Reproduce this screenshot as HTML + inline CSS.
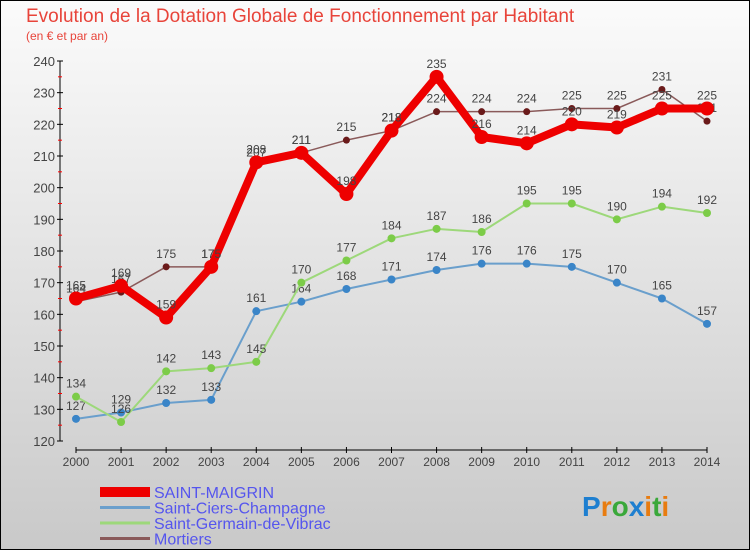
<!DOCTYPE html>
<html><head><meta charset="utf-8"><style>
body{margin:0}
svg{display:block;font-family:"Liberation Sans",sans-serif}
</style></head><body>
<svg id="c" width="750" height="550">
<defs><linearGradient id="bg" x1="0" y1="0" x2="0" y2="1"><stop offset="0" stop-color="#fbfbfb"/><stop offset="1" stop-color="#c9c9c9"/></linearGradient></defs>
<rect x="0.5" y="0.5" width="749" height="549" fill="url(#bg)" stroke="#000"/>
<text x="26" y="22" font-size="19" fill="#e8443a">Evolution de la Dotation Globale de Fonctionnement par Habitant</text>
<text x="26" y="40" font-size="12" fill="#e8443a">(en € et par an)</text>
<g id="axes"></g><g id="series"></g><g id="legend"></g>
<text x="582" y="516" font-size="28" font-weight="bold"><tspan fill="#1e7fd0">P</tspan><tspan fill="#e87c10">r</tspan><tspan fill="#3aa83a">o</tspan><tspan fill="#1e7fd0">x</tspan><tspan fill="#e87c10">i</tspan><tspan fill="#3aa83a">t</tspan><tspan fill="#e87c10">i</tspan></text>
</svg>
<script>
const years=[2000,2001,2002,2003,2004,2005,2006,2007,2008,2009,2010,2011,2012,2013,2014];
const yTicks=[120,130,140,150,160,170,180,190,200,210,220,230,240];
const saintMaigrin=[165,169,159,175,208,211,198,218,235,216,214,220,219,225,225];
const saintCiers=[127,129,132,133,161,164,168,171,174,176,176,175,170,165,157];
const saintGermain=[134,126,142,143,145,170,177,184,187,186,195,195,190,194,192];
const mortiers=[164,167,175,175,207,211,215,218,224,224,224,225,225,231,221];
const NS="http://www.w3.org/2000/svg";
const X=i=>76+i*(707-76)/(years.length-1);
const Y=v=>441-(v-120)*(441-61)/120;
function mk(tag,attrs,parent,text){const e=document.createElementNS(NS,tag);for(const k in attrs)e.setAttribute(k,attrs[k]);if(text!==undefined)e.textContent=text;parent.appendChild(e);return e;}
const ax=document.getElementById('axes');
let a=mk('line',{x1:60,y1:Y(240),x2:60,y2:Y(120),stroke:'#000'},ax);


yTicks.forEach(v=>{
 mk('line',{x1:57,x2:63,y1:Y(v),y2:Y(v),stroke:'#000'},ax);
 if(v<240)mk('line',{x1:58,x2:62,y1:Y(v+5),y2:Y(v+5),stroke:'#f00'},ax);
 const t=mk('text',{x:55,y:Y(v)+5,'text-anchor':'end','font-size':13,fill:'#444'},ax,v);
 
 
});
a=mk('line',{x1:76,y1:450,x2:707,y2:450,stroke:'#000'},ax);


years.forEach((yr,i)=>{
 mk('line',{x1:X(i),x2:X(i),y1:447,y2:453,stroke:'#000'},ax);
 const t=mk('text',{x:X(i),y:466,'text-anchor':'middle','font-size':12,fill:'#444'},ax,yr);
 
 
});
const sg=document.getElementById('series');
const defs=[
 {name:'saint-ciers-champagne',data:saintCiers,color:'#6a9fcc',dot:'#3a85c8',w:2,r:4,lab:'Saint-Ciers-Champagne'},
 {name:'saint-germain-de-vibrac',data:saintGermain,color:'#9dd87a',dot:'#7ccc48',w:2,r:4,lab:'Saint-Germain-de-Vibrac'},
 {name:'mortiers',data:mortiers,color:'#8a5a5a',dot:'#6a1a1a',w:1.5,r:3.5,lab:'Mortiers'},
 {name:'saint-maigrin',data:saintMaigrin,color:'#ee0000',dot:'#ee0000',w:8,r:7,lab:'SAINT-MAIGRIN'}
];
defs.forEach(s=>{
 const g=mk('g',{},sg);
 
 
 const p=mk('polyline',{points:s.data.map((v,i)=>X(i)+','+Y(v)).join(' '),fill:'none',stroke:s.color,'stroke-width':s.w,'stroke-linejoin':'round'},g);
 
 
 s.data.forEach((v,i)=>{
  const c=mk('circle',{cx:X(i),cy:Y(v),r:s.r,fill:s.dot},g);
  
  
  const t=mk('text',{x:X(i),y:Y(v)-9,'text-anchor':'middle','font-size':12,fill:'#444'},g,v);
  
  
 });
});
const lg=document.getElementById('legend');
const order=[defs[3],defs[0],defs[1],defs[2]];
order.forEach((s,k)=>{
 const y=492+k*15.5;
 const g=mk('g',{},lg);
 
 
 mk('line',{x1:100,x2:150,y1:y,y2:y,stroke:s.color,'stroke-width':k==0?10:3},g);
 mk('text',{x:154,y:y+6,'font-size':16,fill:'#5555ee'},g,s.lab);
});
</script>
</body></html>
